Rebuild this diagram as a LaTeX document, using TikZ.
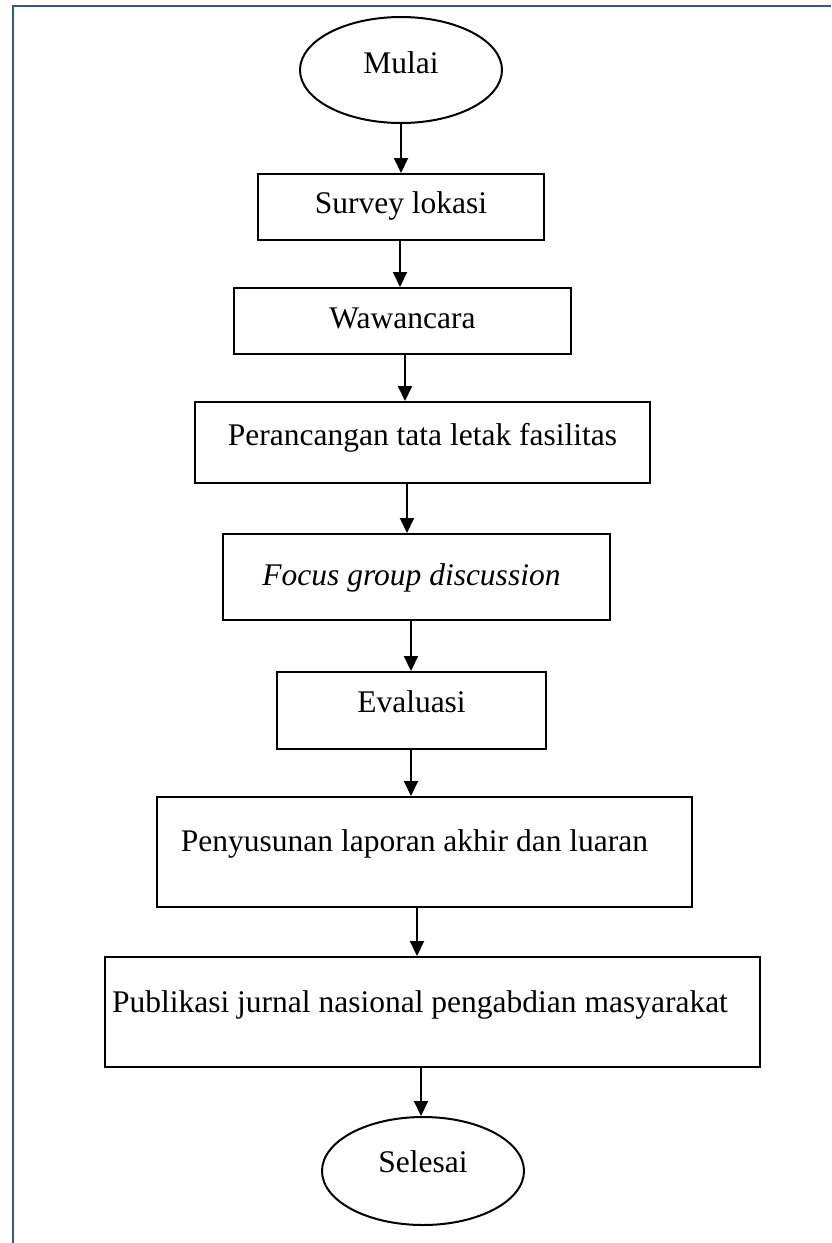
\documentclass[tikz,border=0pt]{standalone}
\usepackage{fontspec}
\setmainfont{Liberation Serif}
\usetikzlibrary{shapes.geometric,arrows.meta}
\definecolor{frameblue}{RGB}{52,86,150}
\begin{document}
\begin{tikzpicture}[x=1pt,y=-1pt,
  every node/.style={font=\fontsize{31.5}{38}\selectfont, inner sep=0pt, line width=2pt, text height=24pt},
  stepbox/.style={draw, rectangle},
  terminal/.style={draw, ellipse},
  arr/.style={draw, line width=2pt, -{Triangle[length=15pt,width=14pt]}}]
\useasboundingbox (0,0) rectangle (831,1243);
\draw[frameblue, line width=2.2pt] (13.3,1243) -- (13.3,5.7) -- (831,5.7);
\node[terminal, minimum width=202pt, minimum height=106pt, text depth=18pt] (m) at (401,70) {Mulai};
\node[stepbox, minimum width=286pt, minimum height=66pt, text depth=12pt] (b1) at (401,207) {Survey lokasi};
\node[stepbox, minimum width=337pt, minimum height=66pt, text depth=10pt] (b2) at (402.5,321) {Wawancara};
\node[stepbox, minimum width=455pt, minimum height=81pt, text depth=19pt] (b3) at (422.5,442.5) {Perancangan tata letak fasilitas};
\node[stepbox, minimum width=387pt, minimum height=86pt, text depth=8pt] (b4) at (416.5,577) {\textit{Focus group discussion}\kern10pt};
\node[stepbox, minimum width=269pt, minimum height=77pt, text depth=21pt] (b5) at (411.5,710.5) {Evaluasi};
\node[stepbox, minimum width=535pt, minimum height=110pt, text depth=26pt] (b6) at (424.5,852) {Penyusunan laporan akhir dan luaran\kern20pt};
\node[stepbox, minimum width=655pt, minimum height=110pt, text depth=24pt] (b7) at (432.5,1012) {Publikasi jurnal nasional pengabdian masyarakat\kern25pt};
\node[terminal, minimum width=202pt, minimum height=108pt, text depth=22pt] (s) at (423,1171) {Selesai};
\draw[arr] (m.south) -- (m.south |- b1.north);
\draw[arr] ([xshift=-1pt]b1.south) -- ([xshift=-1pt]b1.south |- b2.north);
\draw[arr] ([xshift=2.5pt]b2.south) -- ([xshift=2.5pt]b2.south |- b3.north);
\draw[arr] ([xshift=-15.5pt]b3.south) -- ([xshift=-15.5pt]b3.south |- b4.north);
\draw[arr] ([xshift=-5.5pt]b4.south) -- ([xshift=-5.5pt]b4.south |- b5.north);
\draw[arr] ([xshift=-0.5pt]b5.south) -- ([xshift=-0.5pt]b5.south |- b6.north);
\draw[arr] ([xshift=-7.5pt]b6.south) -- ([xshift=-7.5pt]b6.south |- b7.north);
\draw[arr] ([xshift=-11.5pt]b7.south) -- ([xshift=-11.5pt]b7.south |- s.north);
\end{tikzpicture}
\end{document}
